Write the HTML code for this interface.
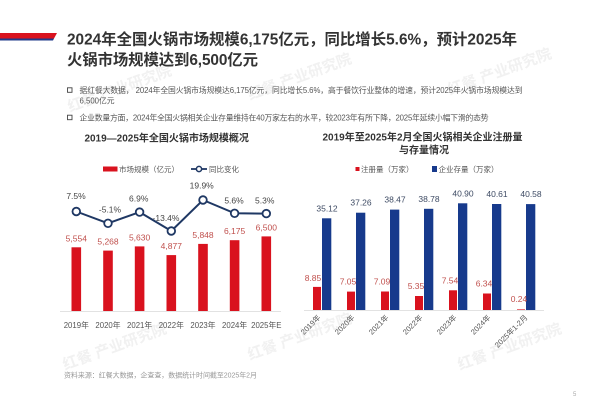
<!DOCTYPE html>
<html><head><meta charset="utf-8">
<style>
html,body{margin:0;padding:0;background:#fff;}
svg{display:block;font-family:"Liberation Sans","Noto Sans CJK SC",sans-serif;}
</style></head>
<body>
<svg width="600" height="400" viewBox="0 0 600 400" xmlns="http://www.w3.org/2000/svg">
<rect width="600" height="400" fill="#fff"/>
<!-- watermarks -->
<g fill="#f1f1f1" font-size="15" font-weight="bold">
<text transform="translate(70,112) rotate(-20)">红餐 产业研究院</text>
<text transform="translate(250,100) rotate(-20)">红餐 产业研究院</text>
<text transform="translate(450,95) rotate(-20)">红餐 产业研究院</text>
<text transform="translate(65,370) rotate(-20)">红餐 产业研究院</text>
<text transform="translate(250,360) rotate(-20)">红餐 产业研究院</text>
<text transform="translate(460,370) rotate(-20)">红餐 产业研究院</text>
</g>
<!-- header bar -->
<polygon points="0,33 57,33 54,38.5 0,38.5" fill="#d9121e"/>
<polygon points="0,38.5 54,38.5 53,40.5 0,40.5" fill="#1f3a8a"/>
<!-- title -->
<g fill="#333" font-weight="bold" font-size="15.4">
<text x="67" y="44.4" textLength="450" lengthAdjust="spacing">2024年全国火锅市场规模6,175亿元，同比增长5.6%，预计2025年</text>
<text x="67" y="64.8" textLength="191" lengthAdjust="spacing">火锅市场规模达到6,500亿元</text>
</g>
<!-- bullets -->
<g fill="#555" font-size="7.8">
<rect x="67.5" y="87.8" width="4.5" height="4.5" fill="none" stroke="#444" stroke-width="0.9"/>
<text x="79.5" y="93" textLength="443" lengthAdjust="spacing">据红餐大数据， 2024年全国火锅市场规模达6,175亿元，同比增长5.6%，高于餐饮行业整体的增速，预计2025年火锅市场规模达到</text>
<text x="79.5" y="103.5">6,500亿元</text>
<rect x="67.5" y="115.2" width="4.5" height="4.5" fill="none" stroke="#444" stroke-width="0.9"/>
<text x="79.5" y="120.4" textLength="409" lengthAdjust="spacing">企业数量方面，2024年全国火锅相关企业存量维持在40万家左右的水平，较2023年有所下降，2025年延续小幅下滑的态势</text>
</g>

<!-- LEFT CHART -->
<text x="166.7" y="141.3" text-anchor="middle" font-size="10" font-weight="bold" fill="#333">2019—2025年全国火锅市场规模概况</text>
<rect x="103" y="166.5" width="14.5" height="5" fill="#d9121e"/>
<text x="119" y="171.8" font-size="7.5" fill="#555">市场规模（亿元）</text>
<line x1="191" y1="169" x2="207" y2="169" stroke="#1f3864" stroke-width="1.8"/>
<circle cx="199" cy="169" r="2.6" fill="#fff" stroke="#1f3864" stroke-width="1.5"/>
<text x="209" y="171.8" font-size="7.5" fill="#555">同比变化</text>

<line x1="60" y1="311.5" x2="281" y2="311.5" stroke="#d9d9d9" stroke-width="0.8"/>
<g fill="#d9121e">
<rect x="71.5" y="247.3" width="9.6" height="63.7"/>
<rect x="103.2" y="250.6" width="9.6" height="60.4"/>
<rect x="134.8" y="246.4" width="9.6" height="64.6"/>
<rect x="166.5" y="255.1" width="9.6" height="55.9"/>
<rect x="198.2" y="243.9" width="9.6" height="67.1"/>
<rect x="229.8" y="240.2" width="9.6" height="70.8"/>
<rect x="261.5" y="236.4" width="9.6" height="74.6"/>
</g>
<g fill="#c0504d" font-size="8.5" text-anchor="middle">
<text x="76.3" y="241.3">5,554</text>
<text x="108" y="244.6">5,268</text>
<text x="139.6" y="240.4">5,630</text>
<text x="171.3" y="249.1">4,877</text>
<text x="203" y="237.9">5,848</text>
<text x="234.6" y="234.2">6,175</text>
<text x="266.3" y="230.4">6,500</text>
</g>
<g fill="#555" font-size="7.8" text-anchor="middle">
<text x="76.3" y="328">2019年</text>
<text x="108" y="328">2020年</text>
<text x="139.6" y="328">2021年</text>
<text x="171.3" y="328">2022年</text>
<text x="203" y="328">2023年</text>
<text x="234.6" y="328">2024年</text>
<text x="266.3" y="328">2025年E</text>
</g>
<polyline points="76.3,211.5 108,223.3 139.6,212.1 171.3,231 203,200 234.6,213.3 266.3,213.6" fill="none" stroke="#1f3864" stroke-width="2"/>
<g fill="#fff" stroke="#1f3864" stroke-width="1.8">
<circle cx="76.3" cy="211.5" r="3.8"/>
<circle cx="108" cy="223.3" r="3.8"/>
<circle cx="139.6" cy="212.1" r="3.8"/>
<circle cx="171.3" cy="231" r="3.8"/>
<circle cx="203" cy="200" r="3.8"/>
<circle cx="234.6" cy="213.3" r="3.8"/>
<circle cx="266.3" cy="213.6" r="3.8"/>
</g>
<g fill="#444" font-size="8.5" text-anchor="middle">
<text x="76" y="199">7.5%</text>
<text x="110" y="212.3">-5.1%</text>
<text x="138.7" y="201.7">6.9%</text>
<text x="166" y="221">-13.4%</text>
<text x="201.7" y="188.7">19.9%</text>
<text x="234" y="203.3">5.6%</text>
<text x="264.7" y="203.3">5.3%</text>
</g>

<!-- RIGHT CHART -->
<g font-size="10" font-weight="bold" fill="#333" text-anchor="middle">
<text x="422.5" y="140.3">2019年至2025年2月全国火锅相关企业注册量</text>
<text x="424" y="153.6">与存量情况</text>
</g>
<rect x="355.5" y="167" width="4" height="4" fill="#d9121e"/>
<text x="361" y="171.8" font-size="7.5" fill="#555">注册量（万家）</text>
<rect x="432" y="166" width="5" height="6" fill="#173a8c"/>
<text x="438.5" y="171.8" font-size="7.5" fill="#555">企业存量（万家）</text>

<line x1="304" y1="310.5" x2="544" y2="310.5" stroke="#d9d9d9" stroke-width="0.8"/>
<g fill="#173a8c">
<rect x="322" y="218.3" width="9.3" height="91.7"/>
<rect x="356" y="212.7" width="9.3" height="97.3"/>
<rect x="390" y="209.6" width="9.3" height="100.4"/>
<rect x="424" y="208.8" width="9.3" height="101.2"/>
<rect x="458" y="203.3" width="9.3" height="106.7"/>
<rect x="492" y="204" width="9.3" height="106"/>
<rect x="526" y="204.1" width="9.3" height="105.9"/>
</g>
<g fill="#d9121e">
<rect x="313" y="286.9" width="8" height="23.1"/>
<rect x="347" y="291.6" width="8" height="18.4"/>
<rect x="381" y="291.5" width="8" height="18.5"/>
<rect x="415" y="296" width="8" height="14"/>
<rect x="449" y="290.3" width="8" height="19.7"/>
<rect x="483" y="293.5" width="8" height="16.5"/>
<rect x="517" y="309.4" width="8" height="0.6"/>
</g>
<g fill="#3d4a63" font-size="8.5" text-anchor="middle">
<text x="327" y="211.3">35.12</text>
<text x="361" y="205.7">37.26</text>
<text x="395" y="202.6">38.47</text>
<text x="429" y="201.8">38.78</text>
<text x="463" y="196.3">40.90</text>
<text x="497" y="197">40.61</text>
<text x="531" y="197.1">40.58</text>
</g>
<g fill="#c0504d" font-size="8.5" text-anchor="middle">
<text x="313" y="280.9">8.85</text>
<text x="348" y="284.6">7.05</text>
<text x="382" y="284.5">7.09</text>
<text x="416" y="289">5.35</text>
<text x="450" y="283.3">7.54</text>
<text x="484" y="286.5">6.34</text>
<text x="519" y="302">0.24</text>
</g>
<g fill="#555" font-size="7.5" text-anchor="end">
<text transform="translate(321,318) rotate(-45)">2019年</text>
<text transform="translate(355,318) rotate(-45)">2020年</text>
<text transform="translate(389,318) rotate(-45)">2021年</text>
<text transform="translate(423,318) rotate(-45)">2022年</text>
<text transform="translate(457,318) rotate(-45)">2023年</text>
<text transform="translate(491,318) rotate(-45)">2024年</text>
<text transform="translate(528,318) rotate(-45)">2025年1-2月</text>
</g>

<!-- source -->
<text x="64" y="377.5" font-size="7" fill="#999" textLength="193" lengthAdjust="spacing">资料来源：红餐大数据，企查查，数据统计时间截至2025年2月</text>
<text x="573" y="396" font-size="6" fill="#aaa">5</text>
</svg>
</body></html>
